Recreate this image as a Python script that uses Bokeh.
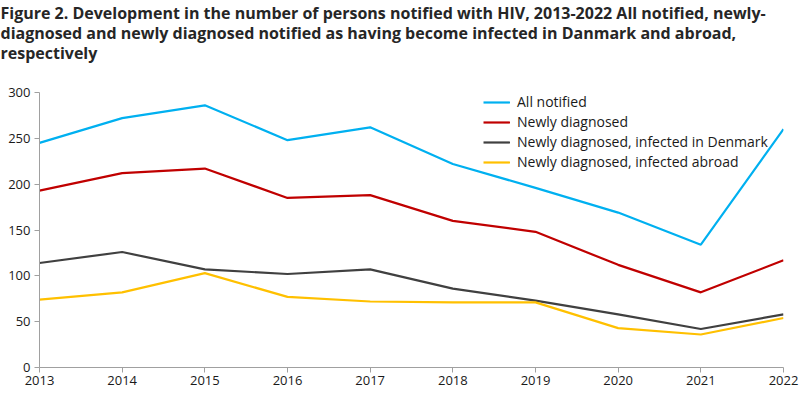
from bokeh.plotting import figure
from bokeh.models import Title, Legend, LegendItem, Range1d, FixedTicker
from bokeh.embed import file_html
from bokeh.resources import INLINE

years = [2013, 2014, 2015, 2016, 2017, 2018, 2019, 2020, 2021, 2022]
all_notified = [245, 272, 286, 248, 262, 222, 196, 169, 134, 260]
newly_diagnosed = [193, 212, 217, 185, 188, 160, 148, 112, 82, 117]
infected_denmark = [114, 126, 107, 102, 107, 86, 73, 58, 42, 58]
infected_abroad = [74, 82, 103, 77, 72, 71, 71, 43, 36, 54]

series_names = ["All notified", "Newly diagnosed",
                "Newly diagnosed, infected in Denmark",
                "Newly diagnosed, infected abroad"]
colors = ["#00B0F0", "#C00000", "#404040", "#FFC000"]
y_ticks = [0, 50, 100, 150, 200, 250, 300]

FONT = "Open Sans"

p = figure(width=800, height=394, output_backend="svg", toolbar_location=None,
           x_range=Range1d(2013, 2022), y_range=Range1d(0, 300),
           min_border_left=39, min_border_right=17, min_border_top=10, min_border_bottom=27)
p.outline_line_color = None
p.xgrid.visible = False
p.ygrid.visible = False

renderers = []
for vals, c in zip([all_notified, newly_diagnosed, infected_denmark, infected_abroad], colors):
    r = p.line(years, vals, line_color=c, line_width=2.2)
    renderers.append(r)

legend = Legend(items=[LegendItem(label=n, renderers=[r]) for n, r in zip(series_names, renderers)],
                location=(444, 196), orientation="vertical",
                background_fill_alpha=0, border_line_color=None,
                label_text_font=FONT, label_text_font_size="14px", label_text_color="#1a1a1a",
                glyph_width=27, glyph_height=14, label_standoff=7, spacing=1, padding=0, margin=0,
                label_height=14)
p.add_layout(legend, "center")

for ax in (p.xaxis, p.yaxis):
    ax.axis_line_color = "#A0A0A0"
    ax.major_tick_line_color = "#A0A0A0"
    ax.minor_tick_line_color = None
    ax.major_tick_in = 0
    ax.major_tick_out = 5
    ax.major_label_text_font = FONT
    ax.major_label_text_font_size = "13px"
    ax.major_label_text_color = "#1a1a1a"

p.xaxis.ticker = FixedTicker(ticks=years)
p.yaxis.ticker = FixedTicker(ticks=y_ticks)
p.xaxis.major_label_standoff = 3
p.yaxis.major_label_standoff = 4

title_lines = ["Figure 2. Development in the number of persons notified with HIV, 2013-2022 All notified, newly-",
               "diagnosed and newly diagnosed notified as having become infected in Danmark and abroad,",
               "respectively"]
p.add_layout(Title(text=" ", text_font=FONT, text_font_size="19px", standoff=0), "above")
p.add_layout(Title(text="\n".join(title_lines), text_font=FONT, text_font_size="16px",
                   text_font_style="bold", text_line_height=0.92,
                   text_color="#262626", offset=-39, standoff=0), "above")

open("out.html", "w").write(file_html(p, INLINE))
